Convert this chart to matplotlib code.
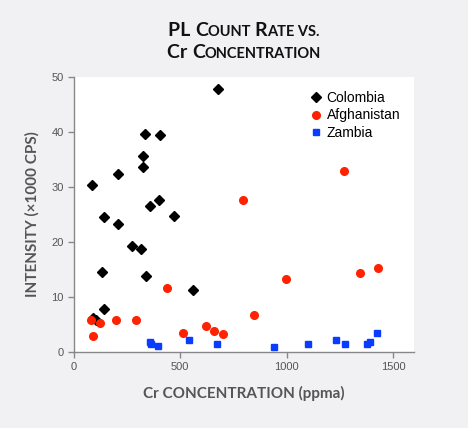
import matplotlib.pyplot as plt
import numpy as np

# Colombia
col_x = [678, 335, 404, 326, 327, 208, 83, 401, 357, 143, 470, 205, 273, 315, 130, 338, 558, 140, 91, 103]
col_y = [47.8, 39.6, 39.5, 35.7, 33.6, 32.4, 30.4, 27.7, 26.5, 24.5, 24.8, 23.3, 19.3, 18.8, 14.6, 13.8, 11.2, 7.8, 6.1, 5.8]
# Afghanistan
afg_x = [78, 91, 122, 200, 291, 439, 512, 619, 659, 699, 793, 849, 996, 1269, 1345, 1430]
afg_y = [5.9, 2.9, 5.3, 5.9, 5.9, 11.7, 3.4, 4.7, 3.8, 3.2, 27.6, 6.8, 13.3, 32.9, 14.3, 15.3]
# Zambia
zam_x = [357, 362, 396, 542, 675, 941, 1103, 1231, 1275, 1378, 1392, 1425]
zam_y = [1.9, 1.4, 1.1, 2.2, 1.5, 0.9, 1.4, 2.1, 1.4, 1.4, 1.9, 3.4]

bg = '#f1f1f3'
gray = '#555555'
fig = plt.figure(figsize=(4.68, 4.28), dpi=100, facecolor=bg)
ax = fig.add_axes([0.158, 0.1776, 0.727, 0.6425])
ax.set_facecolor('white')

ax.plot(col_x, col_y, 'D', color='black', ms=5.5, label='Colombia', clip_on=False)
ax.plot(afg_x, afg_y, 'o', color='#ff2200', ms=5.5, label='Afghanistan', clip_on=False)
ax.plot(zam_x, zam_y, 's', color='#0a3cff', ms=5, label='Zambia', clip_on=False)

ax.set_xlim(0, 1600)
ax.set_ylim(0, 50)
ax.set_xticks([0, 500, 1000, 1500])
ax.set_yticks([0, 10, 20, 30, 40, 50])
for s in ['top', 'right']:
    ax.spines[s].set_visible(False)
for s in ['left', 'bottom']:
    ax.spines[s].set_color('#888888')
    ax.spines[s].set_linewidth(1.0)
ax.tick_params(colors='#888888', labelcolor=gray, labelsize=8, length=4, width=1)
for t in ax.get_xticklabels() + ax.get_yticklabels():
    t.set_family('Liberation Sans')

leg = ax.legend(loc='upper right', frameon=False, handletextpad=0.3,
                labelspacing=0.26, borderaxespad=0.6, handlelength=1.0,
                prop={'family': 'Liberation Sans', 'size': 10})

ax.set_xlabel('Cr CONCENTRATION (ppma)', fontsize=11, color=gray, fontweight='bold',
              family='Lato', labelpad=10)
ax.set_ylabel('INTENSITY (\u00d71000 CPS)', fontsize=11, color=gray, fontweight='bold',
              family='Lato', labelpad=8)

# title in small caps, built piece by piece
big, small = 14, 10.5
lines = [
    (392, [('PL ', big), ('C', big), ('OUNT ', small), ('R', big), ('ATE VS.', small)]),
    (370, [('Cr ', big), ('C', big), ('ONCENTRATION', small)]),
]
r = fig.canvas.get_renderer()
W = fig.bbox.width
for ypix, parts in lines:
    texts = []
    for s, sz in parts:
        t = fig.text(0, ypix / 428, s, fontsize=sz, fontweight='bold', family='Lato',
                     va='baseline', ha='left', color='#111111')
        texts.append(t)
    widths = [t.get_window_extent(r).width for t in texts]
    x = (W - sum(widths)) / 2 + 10
    for t, w in zip(texts, widths):
        t.set_x(x / W)
        x += w

fig.savefig('out.png', dpi=100, facecolor=bg)
